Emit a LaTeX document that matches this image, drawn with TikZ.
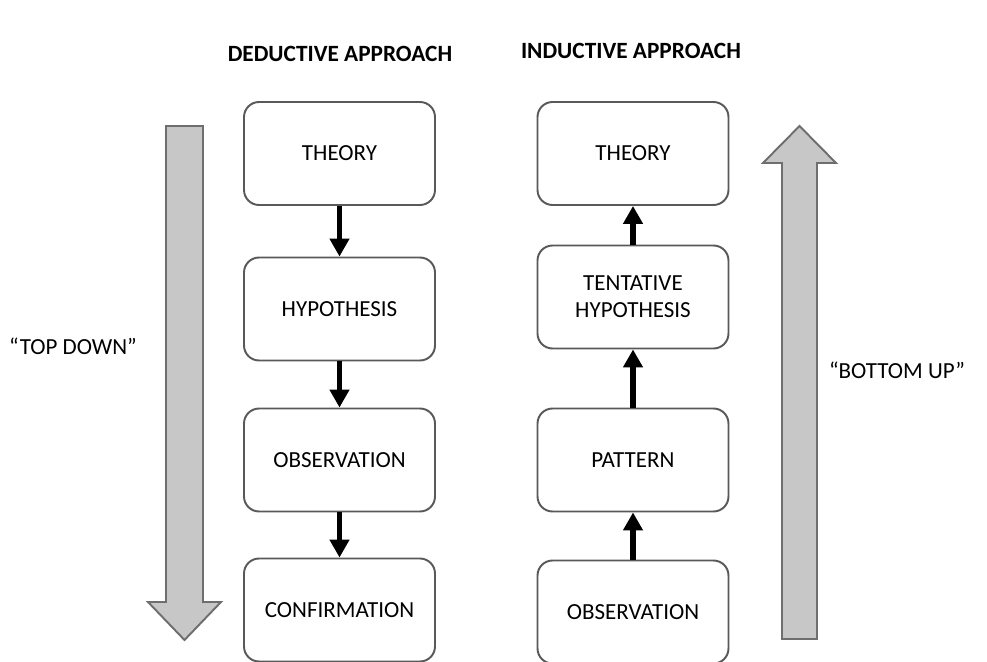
\documentclass[tikz,border=0pt]{standalone}
\usepackage{fontspec}
\setmainfont{Carlito}
\usetikzlibrary{arrows.meta}
\begin{document}
\begin{tikzpicture}[x=0.02cm,y=-0.02cm,
  stepbox/.style={draw=black!65, line width=1.1pt, rounded corners=0.3cm,
    minimum width=3.82cm, minimum height=2.06cm, align=center,
    font=\fontsize{13.1}{15.5}\selectfont, inner sep=0pt},
  flow/.style={line width=3pt, -{Triangle[length=0.36cm,width=0.38cm]}},
  bigarrow/.style={fill=black!22, draw=black!57, line width=1.1pt, line join=miter},
  heading/.style={font=\fontsize{13.25}{15}\selectfont\bfseries},
  side/.style={font=\fontsize{13.1}{15}\selectfont}]
\useasboundingbox (0,0) rectangle (987,662);
\fill[white] (0,0) rectangle (987,662);

% headings
\node[heading] (dedh) at (340,54) {DEDUCTIVE APPROACH};
\node[heading] (indh) at (631,51) {INDUCTIVE APPROACH};

% deductive column
\node[stepbox] (dtheory) at (339.5,153.5) {THEORY};
\node[stepbox] (dhyp) at (339.5,309) {HYPOTHESIS};
\node[stepbox] (dobs) at (339.5,460) {OBSERVATION};
\node[stepbox] (dconf) at (339.5,610) {CONFIRMATION};

% inductive column
\node[stepbox] (itheory) at (633,153.5) {THEORY};
\node[stepbox] (ihyp) at (633,297) {TENTATIVE\\HYPOTHESIS};
\node[stepbox] (ipat) at (633,460) {PATTERN};
\node[stepbox] (iobs) at (633,612) {OBSERVATION};

% connectors
\draw[flow] (dtheory) -- (dhyp);
\draw[flow] (dhyp) -- (dobs);
\draw[flow] (dobs) -- (dconf);
\draw[flow] (iobs) -- (ipat);
\draw[flow] (ipat) -- (ihyp);
\draw[flow] (ihyp) -- (itheory);

% large direction arrows
\draw[bigarrow] (166,126) -- (203,126) -- (203,602) -- (221,602) -- (184.5,640)
  -- (148,602) -- (166,602) -- cycle;
\draw[bigarrow] (782,639) -- (817,639) -- (817,163) -- (836,163) -- (799.5,126)
  -- (763,163) -- (782,163) -- cycle;

% side labels
\node[side] (topdown) at (73,346) {“TOP DOWN”};
\node[side] (bottomup) at (897,370) {“BOTTOM UP”};
\end{tikzpicture}
\end{document}
